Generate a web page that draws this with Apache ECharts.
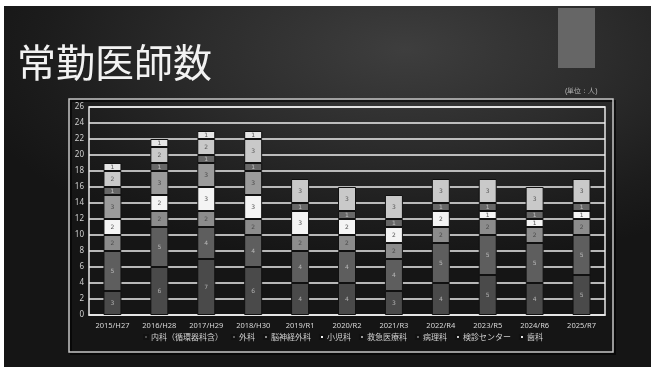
<!DOCTYPE html>
<html>
<head>
<meta charset="utf-8">
<script src="https://cdn.jsdelivr.net/npm/echarts@6/dist/echarts.min.js"></script>
<style>
html,body{margin:0;padding:0;background:#ffffff;width:651px;height:367px;overflow:hidden;}
#slide{position:absolute;left:4px;top:6px;width:647px;height:361px;
background:radial-gradient(ellipse 70% 60% at 62% 12%, #3e3e3e 0%, #2c2c2c 45%, #1c1c1c 80%, #151515 100%);}
#chart{position:absolute;left:0;top:0;width:651px;height:367px;}
</style>
</head>
<body>
<div id="slide"></div>
<div id="chart"></div>
<script>
const categories = ['2015/H27','2016/H28','2017/H29','2018/H30','2019/R1','2020/R2','2021/R3','2022/R4','2023/R5','2024/R6','2025/R7'];
const seriesNames = ['内科（循環器科含）','外科','脳神経外科','小児科','救急医療科','病理科','検診センター','歯科'];
const naika     = [3,6,7,6,4,4,3,4,5,4,5];
const geka      = [5,5,4,4,4,4,4,5,5,5,5];
const noushinkei= [2,2,2,2,2,2,2,2,2,2,2];
const shounika  = [2,2,3,3,3,2,2,2,1,1,1];
const kyukyu    = [3,3,3,3,0,0,0,0,0,0,0];
const byouri    = [1,1,1,1,1,1,1,1,1,1,1];
const kenshin   = [2,2,2,3,3,3,3,3,3,3,3];
const shika     = [1,1,1,1,0,0,0,0,0,0,0];
const yTicks = [0,2,4,6,8,10,12,14,16,18,20,22,24,26];

const values = [naika, geka, noushinkei, shounika, kyukyu, byouri, kenshin, shika];
const colors = ['#4a4a4a','#5e5e5e','#8c8c8c','#f4f4f4','#9b9b9b','#676767','#c9c9c9','#e6e6e6'];
const labelColors = ['#b0b0b0','#b8b8b8','#4a4a4a','#555555','#4a4a4a','#c0c0c0','#5a5a5a','#555555'];

const chart = echarts.init(document.getElementById('chart'), null, {renderer:'canvas'});
const series = seriesNames.map((n,i)=>({
  name:n, type:'bar', stack:'total', barWidth:18,
  data: values[i].map(v => v === 0 ? null : v),
  itemStyle:{color:colors[i], borderColor:'#111', borderWidth:1},
  label:{show:true, position:'inside', fontSize:6, color:labelColors[i], fontFamily:'DejaVu Sans'},
  emphasis:{disabled:true}
}));

chart.setOption({
  animation:false,
  backgroundColor:'transparent',
  textStyle:{fontFamily:'"Noto Sans CJK JP", "Noto Sans", sans-serif'},
  title:{text:'常勤医師数', left:12, top:38,
    textStyle:{color:'#f2f2f2', fontSize:39, fontWeight:'normal', fontFamily:'"Noto Sans CJK JP", sans-serif'}},
  graphic:[
    {type:'rect', shape:{x:558,y:8,width:37,height:60}, style:{fill:'#666666'}, silent:true},
    {type:'rect', shape:{x:71,y:101,width:544,height:253}, style:{fill:'none', stroke:'rgba(0,0,0,0.6)', lineWidth:2}, silent:true, z:-1},
    {type:'rect', shape:{x:69,y:99,width:544,height:253}, style:{fill:'none', stroke:'#c4c4c4', lineWidth:1.5}, silent:true},
    {type:'text', left:565, top:88, style:{text:'(単位：人)', fill:'#bdbdbd', fontSize:7, font:'7px "Noto Sans CJK JP", sans-serif'}, silent:true}
  ],
  legend:{
    data:seriesNames, bottom:21, left:138, itemWidth:4, itemHeight:4, itemGap:8,
    icon:'rect',
    textStyle:{color:'#cfcfcf', fontSize:8, padding:[0,0,0,-2]},
    selectedMode:false
  },
  grid:{left:89, right:46, top:107, bottom:52, show:true, borderColor:'#e8e8e8', borderWidth:1.5, containLabel:false},
  xAxis:{
    type:'category', data:categories,
    axisLine:{lineStyle:{color:'#e8e8e8', width:1.5}},
    axisTick:{show:false},
    axisLabel:{color:'#d8d8d8', fontSize:7.5, margin:7, interval:0, fontFamily:'"Noto Sans", sans-serif'}
  },
  yAxis:{
    type:'value', min:0, max:26, interval:2,
    axisLine:{show:false}, axisTick:{show:false},
    axisLabel:{color:'#d0d0d0', fontSize:8, margin:5, fontFamily:'"Noto Sans", sans-serif',
      formatter:v => yTicks.includes(v) ? String(v) : ''},
    splitLine:{lineStyle:{color:'#eeeeee', width:1.5}}
  },
  series:series
});
</script>
</body>
</html>
